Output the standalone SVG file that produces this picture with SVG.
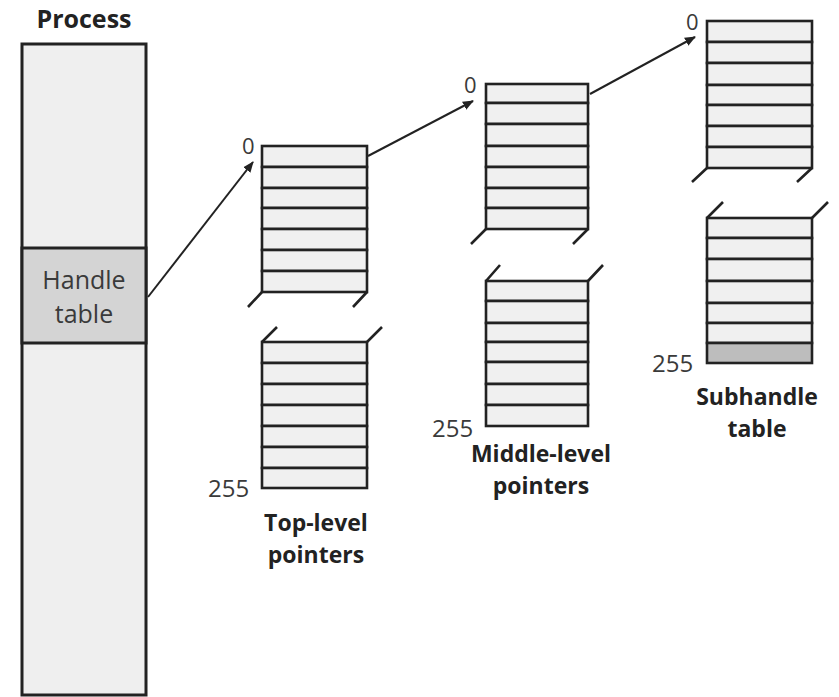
<svg xmlns="http://www.w3.org/2000/svg" width="839" height="697" viewBox="0 0 839 697">
<defs>
<style>
.box{fill:#efefef;stroke:#222;stroke-width:3}
.row{fill:#f0f0f0;stroke:#222;stroke-width:2.6}
.dark{fill:#bdbdbd;stroke:#222;stroke-width:2.6}
.brk{stroke:#222;stroke-width:2.6;fill:none}
.conn{stroke:#222;stroke-width:2;fill:none}
.num{font-family:"Open Sans","Liberation Sans",sans-serif;font-size:24px;fill:#3a3a3a}
.zero{font-family:"Open Sans","Liberation Sans",sans-serif;font-size:22px;fill:#3a3a3a}
.lbl{font-family:"Open Sans","Liberation Sans",sans-serif;font-size:25px;font-weight:bold;fill:#222;text-anchor:middle}
.lbl2{font-family:"Open Sans","Liberation Sans",sans-serif;font-size:23px;font-weight:bold;fill:#222;text-anchor:middle}
.in{font-family:"Open Sans","Liberation Sans",sans-serif;font-size:25px;fill:#3a3a3a;text-anchor:middle}
</style>
<marker id="ah" markerWidth="11" markerHeight="11" refX="10" refY="5.5" orient="auto" markerUnits="userSpaceOnUse">
<path d="M0,1 L11,5.5 L0,10 z" fill="#222"/>
</marker>
</defs>
<rect width="839" height="697" fill="#fff"/>

<g id="process">
<text class="lbl" x="84" y="28">Process</text>
<rect class="box" x="22" y="44" width="124" height="651"/>
</g>
<g id="handle-table">
<rect x="22" y="248" width="124" height="95" fill="#d4d4d4" stroke="#222" stroke-width="3"/>
<text class="in" x="84" y="289">Handle</text>
<text class="in" x="84" y="323">table</text>
</g>

<g id="top-level">
<text class="zero" x="242" y="154">0</text>
<g>
<rect class="row" x="262" y="146" width="105" height="21"/>
<rect class="row" x="262" y="167" width="105" height="21"/>
<rect class="row" x="262" y="188" width="105" height="20"/>
<rect class="row" x="262" y="208" width="105" height="21"/>
<rect class="row" x="262" y="229" width="105" height="21"/>
<rect class="row" x="262" y="250" width="105" height="21"/>
<rect class="row" x="262" y="271" width="105" height="21"/>
</g>
<path class="brk" d="M262,292 L248,307 M367,292 L353,307 M262,342 L277,327 M367,342 L382,327"/>
<g>
<rect class="row" x="262" y="342" width="105" height="21"/>
<rect class="row" x="262" y="363" width="105" height="21"/>
<rect class="row" x="262" y="384" width="105" height="21"/>
<rect class="row" x="262" y="405" width="105" height="21"/>
<rect class="row" x="262" y="426" width="105" height="21"/>
<rect class="row" x="262" y="447" width="105" height="21"/>
<rect class="row" x="262" y="468" width="105" height="20"/>
</g>
<text class="num" x="208" y="497">255</text>
<text class="lbl2" x="316" y="531">Top-level</text>
<text class="lbl2" x="316" y="563">pointers</text>
</g>

<g id="middle-level">
<text class="zero" x="464" y="93">0</text>
<g>
<rect class="row" x="486" y="84" width="102" height="19"/>
<rect class="row" x="486" y="103" width="102" height="21"/>
<rect class="row" x="486" y="124" width="102" height="22"/>
<rect class="row" x="486" y="146" width="102" height="21"/>
<rect class="row" x="486" y="167" width="102" height="21"/>
<rect class="row" x="486" y="188" width="102" height="20"/>
<rect class="row" x="486" y="208" width="102" height="21"/>
</g>
<path class="brk" d="M486,229 L471,244 M588,229 L573,244 M486,281 L500,265 M588,281 L603,265"/>
<g>
<rect class="row" x="486" y="281" width="102" height="20"/>
<rect class="row" x="486" y="301" width="102" height="22"/>
<rect class="row" x="486" y="323" width="102" height="19"/>
<rect class="row" x="486" y="342" width="102" height="20"/>
<rect class="row" x="486" y="362" width="102" height="22"/>
<rect class="row" x="486" y="384" width="102" height="21"/>
<rect class="row" x="486" y="405" width="102" height="21"/>
</g>
<text class="num" x="432" y="437">255</text>
<text class="lbl2" x="541" y="462">Middle-level</text>
<text class="lbl2" x="541" y="494">pointers</text>
</g>

<g id="subhandle">
<text class="zero" x="686" y="30">0</text>
<g>
<rect class="row" x="707" y="21" width="105" height="21"/>
<rect class="row" x="707" y="42" width="105" height="21"/>
<rect class="row" x="707" y="63" width="105" height="22"/>
<rect class="row" x="707" y="85" width="105" height="20"/>
<rect class="row" x="707" y="105" width="105" height="21"/>
<rect class="row" x="707" y="126" width="105" height="21"/>
<rect class="row" x="707" y="147" width="105" height="21"/>
</g>
<path class="brk" d="M707,168 L692,182 M812,168 L797,182 M707,218 L723,202 M812,218 L828,202"/>
<g>
<rect class="row" x="707" y="218" width="105" height="20"/>
<rect class="row" x="707" y="238" width="105" height="21"/>
<rect class="row" x="707" y="259" width="105" height="22"/>
<rect class="row" x="707" y="281" width="105" height="22"/>
<rect class="row" x="707" y="303" width="105" height="20"/>
<rect class="row" x="707" y="323" width="105" height="20"/>
<rect class="dark" x="707" y="343" width="105" height="20"/>
</g>
<text class="num" x="652" y="372">255</text>
<text class="lbl2" x="757" y="405">Subhandle</text>
<text class="lbl2" x="757" y="437">table</text>
</g>

<g id="connectors">
<line class="conn" x1="148" y1="297" x2="253" y2="162" marker-end="url(#ah)"/>
<line class="conn" x1="368" y1="156" x2="473" y2="101" marker-end="url(#ah)"/>
<line class="conn" x1="590" y1="94" x2="695" y2="37" marker-end="url(#ah)"/>
</g>
</svg>
